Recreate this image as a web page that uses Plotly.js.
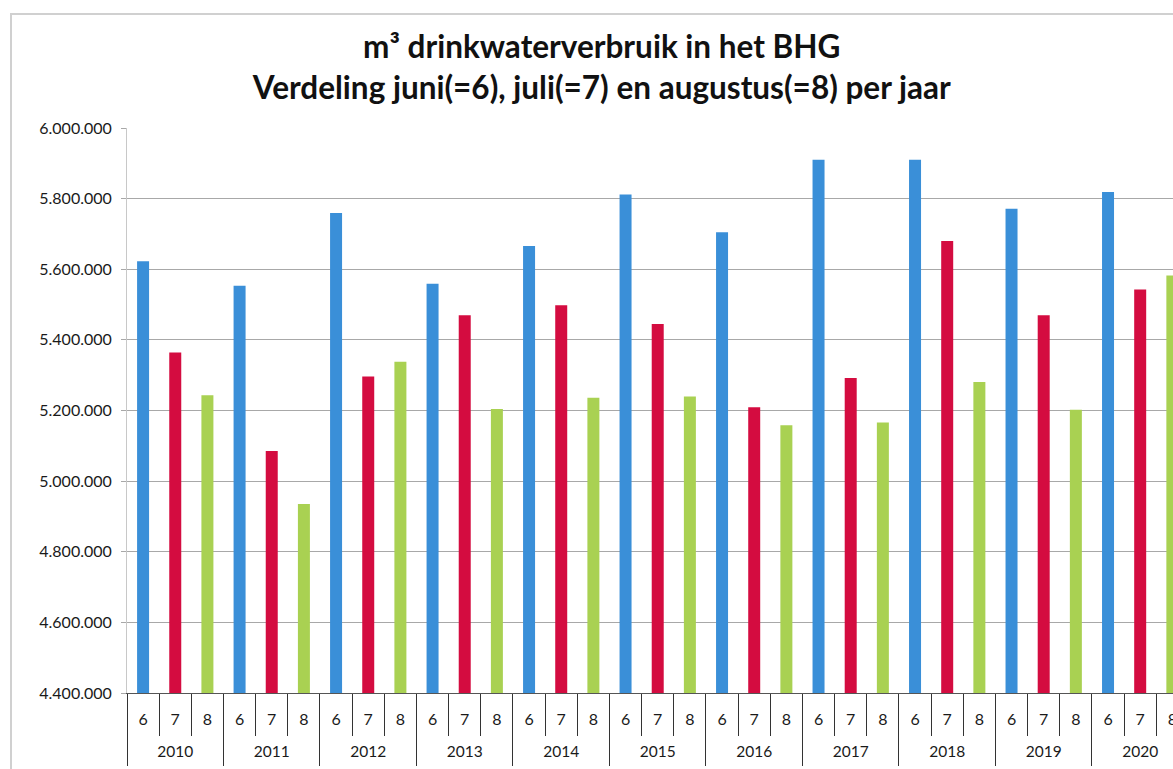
<!DOCTYPE html>
<html>
<head>
<meta charset="utf-8">
<script src="https://cdn.plot.ly/plotly-3.0.1.min.js"></script>
<style>
  html, body { margin: 0; padding: 0; background: #fff; }
  #chart { width: 1173px; height: 769px; position: relative; }
  #frame { position: absolute; left: 10px; top: 13px; width: 1200px; height: 800px;
           border-left: 2px solid #d0d0d0; border-top: 2px solid #d0d0d0; pointer-events: none; }
</style>
</head>
<body>
<div id="chart"></div>
<div id="frame"></div>
<script>
const years = ['2010','2011','2012','2013','2014','2015','2016','2017','2018','2019','2020'];
const months = ['6','7','8'];
const juni     = [5623000, 5553000, 5759000, 5559000, 5666000, 5812000, 5705000, 5910000, 5910000, 5771000, 5819000];
const juli     = [5364000, 5085000, 5296000, 5470000, 5498000, 5445000, 5209000, 5292000, 5680000, 5470000, 5543000];
const augustus = [5243000, 4935000, 5338000, 5204000, 5236000, 5240000, 5158000, 5166000, 5281000, 5202000, 5582000];
const monthColors = {'6': '#3a8fd8', '7': '#d40c40', '8': '#a9d152'};

const seriesByMonth = {'6': juni, '7': juli, '8': augustus};
const cats = [], catText = [], yVals = [], cols = [];
years.forEach((yr, i) => {
  months.forEach(m => {
    cats.push(yr + '-' + m);
    catText.push(m);
    yVals.push(seriesByMonth[m][i]);
    cols.push(monthColors[m]);
  });
});
const nPer = months.length;
const yearCenters = years.map((_, i) => i * nPer + (nPer - 1) / 2);
const yearBounds = years.map((_, i) => i * nPer - 0.5);
const xRange = [-0.5, 32.02];

const trace = {
  type: 'bar',
  x: cats,
  y: yVals,
  marker: { color: cols, line: { width: 0 } },
  width: 0.373,
  hoverinfo: 'x+y'
};
// invisible helper traces so the overlay axes are drawn
const helper2 = { type: 'scatter', x: [xRange[0]], y: [4400000], xaxis: 'x2', mode: 'markers', marker: { opacity: 0 }, hoverinfo: 'skip' };
const helper3 = { type: 'scatter', x: [xRange[0]], y: [4400000], xaxis: 'x3', mode: 'markers', marker: { opacity: 0 }, hoverinfo: 'skip' };

const baseFont = 'Lato, "Open Sans", sans-serif';

const layout = {
  width: 1173, height: 769,
  margin: { l: 127, r: 0, t: 128, b: 76 },
  paper_bgcolor: '#ffffff', plot_bgcolor: '#ffffff',
  separators: ',.',
  showlegend: false,
  font: { family: baseFont, color: '#1a1a1a', size: 15 },
  title: {
    text: '<b>m³ drinkwaterverbruik in het BHG</b><br><b>Verdeling juni(=6), juli(=7) en augustus(=8) per jaar</b>',
    font: { family: baseFont, size: 31.5, color: '#111' },
    x: 0.513, xref: 'container', xanchor: 'center',
    y: 0.925, yref: 'container', yanchor: 'top'
  },
  xaxis: {
    type: 'category',
    categoryorder: 'array', categoryarray: cats,
    range: xRange,
    tickmode: 'array', tickvals: cats, ticktext: catText,
    ticks: '', ticklabelstandoff: 12,
    showline: true, linecolor: '#555', linewidth: 1,
    tickfont: { size: 16, color: '#1a1a1a' },
    showgrid: false, zeroline: false, fixedrange: true
  },
  xaxis2: {
    type: 'linear', overlaying: 'x', side: 'bottom', anchor: 'y',
    range: xRange,
    tickmode: 'array', tickvals: yearBounds, ticks: 'outside', ticklen: 72, tickcolor: '#333', tickwidth: 1,
    minor: { tick0: -0.5, dtick: 1, ticks: 'outside', ticklen: 42, tickcolor: '#333', tickwidth: 1, showgrid: false },
    showticklabels: false, showgrid: false, zeroline: false, showline: false, fixedrange: true
  },
  xaxis3: {
    type: 'linear', overlaying: 'x', side: 'bottom', anchor: 'y',
    range: xRange,
    tickmode: 'array', tickvals: yearCenters, ticktext: years,
    ticks: '', ticklabelstandoff: 47,
    tickfont: { size: 15.5, color: '#1a1a1a' },
    showgrid: false, zeroline: false, showline: false, fixedrange: true
  },
  yaxis: {
    range: [4400000, 6000000],
    dtick: 200000, tick0: 4400000,
    tickformat: ',d',
    showgrid: true, gridcolor: '#a8a8a8', gridwidth: 1,
    showline: true, linecolor: '#c8c8c8', linewidth: 1,
    ticks: 'outside', ticklen: 5, tickcolor: '#a8a8a8',
    ticklabelstandoff: 6,
    tickfont: { size: 16, color: '#1a1a1a' },
    zeroline: false, fixedrange: true
  }
};

Plotly.newPlot('chart', [trace, helper2, helper3], layout, { displayModeBar: false, staticPlot: true });
</script>
</body>
</html>
